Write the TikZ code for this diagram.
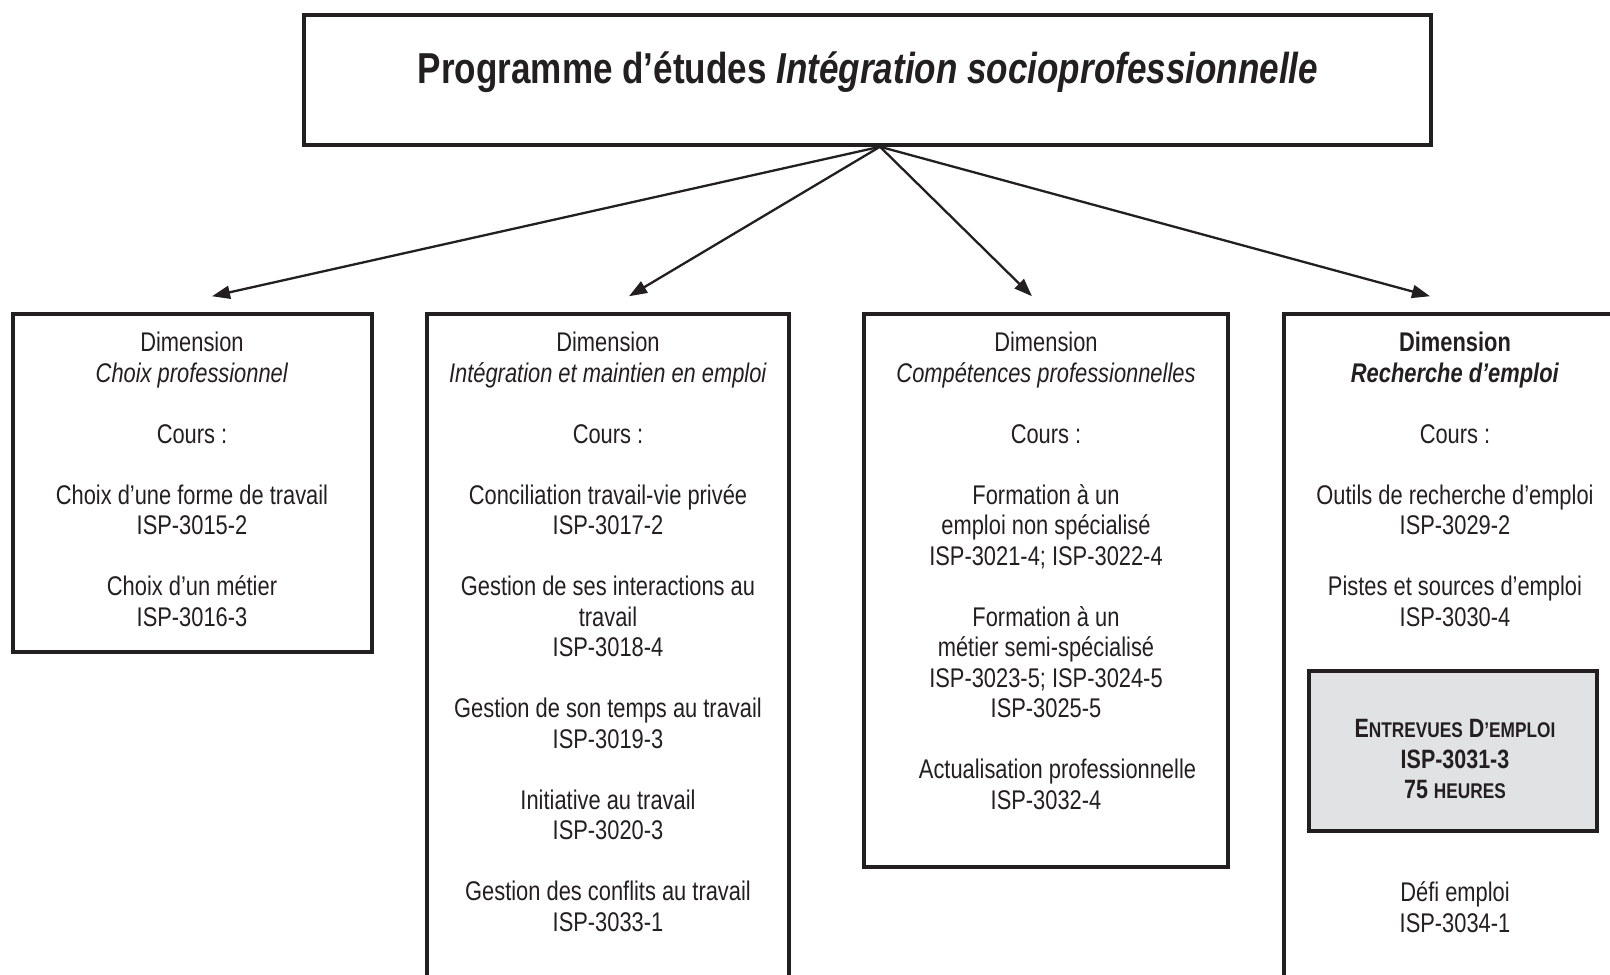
\documentclass[tikz,border=0pt]{standalone}
\usepackage{fontspec}
\setmainfont{Liberation Sans}[FakeStretch=0.81]
\usetikzlibrary{arrows.meta,calc}
\definecolor{ink}{HTML}{231F20}
\definecolor{panel}{HTML}{E1E2E4}
% invisible rule that fixes the height of each block's first line
\newcommand\tstrut{\rule{0pt}{22pt}}
\newcommand\smc[1]{{\fontsize{21.3}{30.5}\selectfont #1}}
\begin{document}
\begin{tikzpicture}[x=1pt,y=-1pt,
  frame/.style={draw=ink, line width=3.5pt, inner sep=0pt},
  greybox/.style={frame, fill=panel},
  link/.style={draw=ink, line width=2.3pt, -{Triangle[length=18pt,width=13pt]}},
  txt/.style={anchor=north, align=center, inner sep=0pt, text=ink,
              font=\fontsize{27}{30.5}\selectfont},
  boldtxt/.style={txt, font=\fontsize{26.5}{30.5}\selectfont\bfseries}]
\useasboundingbox (0,0) rectangle (1610,975);
\clip (0,0) rectangle (1610,975);

% boxes
\node[frame, minimum width=1127, minimum height=130] (top) at (867.5,80) {};
\node[frame, minimum width=359, minimum height=338] (d1) at (192.5,483) {};
\node[frame, minimum width=362, minimum height=686] (d2) at (608,657) {};
\node[frame, minimum width=364, minimum height=553] (d3) at (1046,590.5) {};
\node[frame, minimum width=344, minimum height=686] (d4) at (1456,657) {};
\node[greybox, minimum width=288, minimum height=160] (ent) at (1453,751) {};

% title
\node[anchor=base, inner sep=0pt, text=ink, font=\fontsize{43.3}{48}\selectfont\bfseries]
  (title) at (868,83) {Programme d’études \textit{Intégration socioprofessionnelle}};

% connectors
\coordinate (apex) at ($(top.south)+(12.5,0)$);
\coordinate (tip1) at ($(d1.north)+(19.5,-16)$);
\coordinate (tip2) at ($(d2.north)+(21,-16)$);
\coordinate (tip3) at ($(d3.north)+(-14,-16)$);
\coordinate (tip4) at ($(d4.north)+(-26,-16)$);
\draw[link] (apex) -- (tip1);
\draw[link] (apex) -- (tip2);
\draw[link] (apex) -- (tip3);
\draw[link] (apex) -- (tip4);

% contents
\node[txt] (t1) at (192,329.7) {\tstrut Dimension\\ \textit{Choix professionnel}\\[30.5pt]
  Cours :\\[30.5pt]
  Choix d’une forme de travail\\ ISP-3015-2\\[30.5pt]
  Choix d’un métier\\ ISP-3016-3};

\node[txt] (t2) at (608,329.7) {\tstrut Dimension\\ \textit{Intégration et maintien en emploi}\\[30.5pt]
  Cours :\\[30.5pt]
  Conciliation travail-vie privée\\ ISP-3017-2\\[30.5pt]
  Gestion de ses interactions au\\ travail\\ ISP-3018-4\\[30.5pt]
  Gestion de son temps au travail\\ ISP-3019-3\\[30.5pt]
  Initiative au travail\\ ISP-3020-3\\[30.5pt]
  Gestion des conflits au travail\\ ISP-3033-1};

\node[txt] (t3) at (1046,329.7) {\tstrut Dimension\\ \textit{Compétences professionnelles}\\[30.5pt]
  Cours :\\[30.5pt]
  Formation à un\\ emploi non spécialisé\\ ISP-3021-4; ISP-3022-4\\[30.5pt]
  Formation à un\\ métier semi-spécialisé\\ ISP-3023-5; ISP-3024-5\\ ISP-3025-5\\[30.5pt]
  \hspace*{23pt}Actualisation professionnelle\\ ISP-3032-4};

\node[txt] (t4) at (1455,329.7) {\tstrut\textbf{Dimension}\\ \textbf{\textit{Recherche d’emploi}}\\[30.5pt]
  Cours :\\[30.5pt]
  Outils de recherche d’emploi\\ ISP-3029-2\\[30.5pt]
  Pistes et sources d’emploi\\ ISP-3030-4};

\node[boldtxt] (t5) at (1455,715.3) {\tstrut E\smc{NTREVUES} D\smc{’EMPLOI}\\ ISP-3031-3\\ 75 \smc{HEURES}};

\node[txt] (t6) at (1455,879.7) {\tstrut Défi emploi\\ ISP-3034-1};
\end{tikzpicture}
\end{document}
